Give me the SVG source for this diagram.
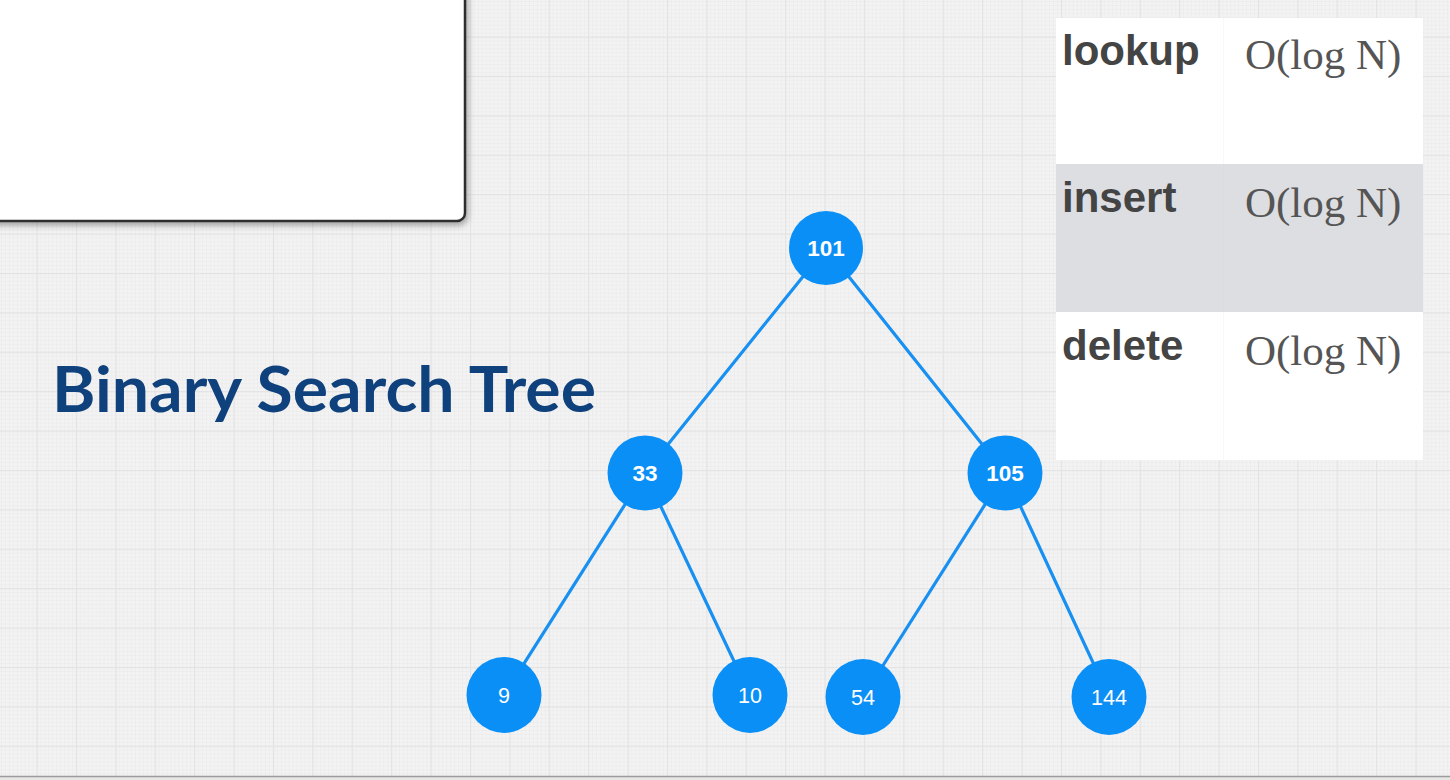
<svg xmlns="http://www.w3.org/2000/svg" width="1450" height="780" viewBox="0 0 1450 780">
  <defs>
    <pattern id="minor" x="36.5" y="36.5" width="3.94" height="3.94" patternUnits="userSpaceOnUse">
      <path d="M0 0.5 H3.94 M0.5 0 V3.94" stroke="#eaeaea" stroke-width="0.6" fill="none"/>
    </pattern>
    <pattern id="major" x="36.5" y="36.5" width="39.4" height="39.4" patternUnits="userSpaceOnUse">
      <path d="M0 0.5 H39.4 M0.5 0 V39.4" stroke="#e3e3e3" stroke-width="1.4" fill="none"/>
    </pattern>
    <filter id="shadow" x="-10%" y="-10%" width="130%" height="130%">
      <feDropShadow dx="1.5" dy="3" stdDeviation="3" flood-color="#000" flood-opacity="0.35"/>
    </filter>
  </defs>
  <style>
    .node { fill: #0a8ff7; }
    .edge { stroke: #1790f2; stroke-width: 3.2; stroke-linecap: round; }
    .lbl { font-family: "Liberation Sans", Arial, sans-serif; font-weight: bold; font-size: 22.5px; fill: #ffffff; text-anchor: middle; }
    .leaf { font-family: "Liberation Sans", Arial, sans-serif; font-size: 21.5px; fill: #ffffff; text-anchor: middle; }
    .op { font-family: "Liberation Sans", Arial, sans-serif; font-weight: bold; font-size: 42px; fill: #444444; }
    .cx { font-family: "Liberation Serif", "Times New Roman", serif; font-size: 43px; fill: #555555; }
    .title { font-family: Lato, "Open Sans", sans-serif; font-weight: bold; font-size: 64px; fill: #0f417c; }
  </style>

  <!-- background -->
  <rect x="0" y="0" width="1450" height="780" fill="#f3f3f3"/>
  <rect x="0" y="0" width="1450" height="780" fill="url(#minor)"/>
  <rect x="0" y="0" width="1450" height="780" fill="url(#major)"/>
  <rect x="0" y="776" width="1450" height="4" fill="#e6e6e6"/>
  <line x1="0" y1="776.5" x2="1450" y2="776.5" stroke="#9c9c9c" stroke-width="1.5"/>

  <!-- top-left card -->
  <g id="card">
    <rect x="-12" y="-12" width="477" height="233" rx="8" ry="8" fill="#ffffff" stroke="#2e2e2e" stroke-width="2.5" filter="url(#shadow)"/>
  </g>

  <!-- title -->
  <g id="title">
    <text class="title" x="52" y="412" textLength="544" lengthAdjust="spacingAndGlyphs">Binary Search Tree</text>
  </g>

  <!-- complexity table -->
  <g id="table">
    <rect x="1056" y="18" width="367" height="146" fill="#ffffff"/>
    <rect x="1056" y="164" width="367" height="148" fill="#dddee1"/>
    <rect x="1056" y="312" width="367" height="148" fill="#ffffff"/>
    <line x1="1223.5" y1="18" x2="1223.5" y2="164" stroke="#f8f8f8" stroke-width="1"/>
    <line x1="1223.5" y1="164" x2="1223.5" y2="312" stroke="#dadbde" stroke-width="1"/>
    <line x1="1223.5" y1="312" x2="1223.5" y2="460" stroke="#f8f8f8" stroke-width="1"/>
    <text class="op" x="1062" y="65">lookup</text>
    <text class="cx" x="1245" y="69">O(log N)</text>
    <text class="op" x="1062" y="212">insert</text>
    <text class="cx" x="1245" y="217">O(log N)</text>
    <text class="op" x="1062" y="360">delete</text>
    <text class="cx" x="1245" y="365">O(log N)</text>
  </g>

  <!-- connectors -->
  <g id="edges">
    <line class="edge" x1="826" y1="248" x2="645" y2="473"/>
    <line class="edge" x1="826" y1="248" x2="1005" y2="473"/>
    <line class="edge" x1="645" y1="473" x2="504" y2="695"/>
    <line class="edge" x1="645" y1="473" x2="750" y2="695"/>
    <line class="edge" x1="1005" y1="473" x2="863" y2="697"/>
    <line class="edge" x1="1005" y1="473" x2="1109" y2="697"/>
  </g>

  <!-- nodes -->
  <g id="n101">
    <circle class="node" cx="826" cy="248" r="37"/>
    <text class="lbl" x="826" y="256">101</text>
  </g>
  <g id="n33">
    <circle class="node" cx="645" cy="473" r="37.5"/>
    <text class="lbl" x="645" y="481">33</text>
  </g>
  <g id="n105">
    <circle class="node" cx="1005" cy="473" r="37.5"/>
    <text class="lbl" x="1005" y="481">105</text>
  </g>
  <g id="n9">
    <ellipse class="node" cx="504" cy="695" rx="37.5" ry="38"/>
    <text class="leaf" x="504" y="703">9</text>
  </g>
  <g id="n10">
    <ellipse class="node" cx="750" cy="695" rx="37.5" ry="38"/>
    <text class="leaf" x="750" y="703">10</text>
  </g>
  <g id="n54">
    <ellipse class="node" cx="863" cy="697" rx="37.5" ry="38"/>
    <text class="leaf" x="863" y="705">54</text>
  </g>
  <g id="n144">
    <ellipse class="node" cx="1109" cy="697" rx="37.5" ry="38"/>
    <text class="leaf" x="1109" y="705">144</text>
  </g>
</svg>
